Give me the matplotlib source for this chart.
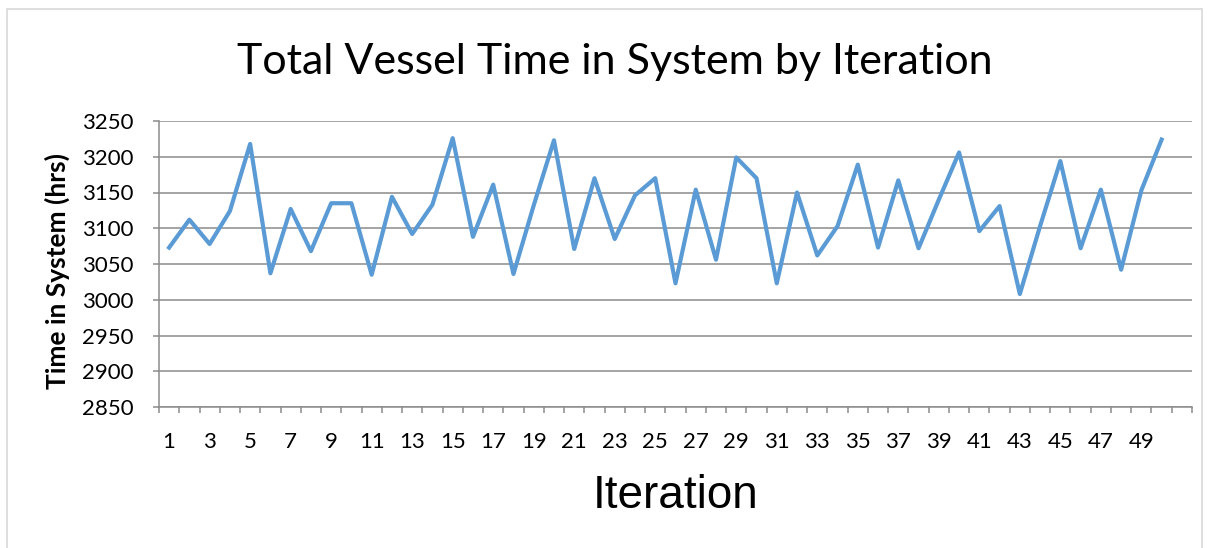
import numpy as np
import matplotlib
matplotlib.use("Agg")
import matplotlib.pyplot as plt
from matplotlib.patches import Rectangle

# data
iterations = list(range(1, 51))
time_in_system = [3073, 3112, 3078, 3124, 3218, 3037, 3127, 3068, 3135, 3135,
                  3035, 3144, 3092, 3133, 3226, 3088, 3161, 3036, 3132, 3223,
                  3071, 3170, 3085, 3146, 3170, 3023, 3154, 3056, 3199, 3170,
                  3023, 3150, 3062, 3103, 3189, 3073, 3167, 3072, 3140, 3206,
                  3096, 3131, 3008, 3103, 3194, 3072, 3154, 3042, 3153, 3224]
tick_labels = [str(i) for i in range(1, 50, 2)]
y_ticks = list(range(2850, 3251, 50))

plt.rcParams['font.family'] = ['Lato', 'DejaVu Sans']

fig = plt.figure(figsize=(12.1, 5.48), dpi=100)
ax = fig.add_axes([159/1210, 1 - 407/548, (1192 - 159)/1210, (407 - 121)/548])

# outer chart border
fig.patches.append(Rectangle((7/1210, -0.05), (1202 - 7)/1210, 1.05 - 9/548,
                             transform=fig.transFigure, fill=False,
                             edgecolor='#d9d9d9', linewidth=1.2))

ax.plot(iterations, time_in_system, color='#5b9bd5', linewidth=3.0,
        solid_joinstyle='round', zorder=3)

ax.set_xlim(0.5, 51.5)
ax.set_ylim(2850, 3250)
ax.set_yticks(y_ticks)
ax.set_yticklabels([str(v) for v in y_ticks])
ax.set_xticks(list(range(1, 50, 2)))
ax.set_xticklabels(tick_labels)
ax.set_xticks(np.arange(0.5, 52, 1), minor=True)

ax.grid(axis='y', color='#8c8c8c', linewidth=1.1, zorder=0)
for s in ['top', 'right']:
    ax.spines[s].set_visible(False)
for s in ['left', 'bottom']:
    ax.spines[s].set_color('#8c8c8c')
    ax.spines[s].set_linewidth(1.1)

ax.tick_params(axis='y', length=4.3, color='#8c8c8c', width=1.1, pad=14,
               labelsize=16)
ax.tick_params(axis='x', which='major', length=0, pad=18, labelsize=16)
ax.tick_params(axis='x', which='minor', length=4.3, color='#8c8c8c', width=1.1,
               direction='out')

fig.text(0.508, 1 - 74.3/548, 'Total Vessel Time in System by Iteration',
         ha='center', va='baseline', fontsize=31)
fig.text(675.5/1210, 1 - 508.3/548, 'Iteration', ha='center', va='baseline',
         fontsize=33, family='Liberation Sans')
fig.text(57/1210, 1 - 271/548, 'Time in System (hrs)', rotation=90,
         ha='center', va='center', fontsize=19, fontweight='bold')

fig.savefig('out.png', dpi=100)
